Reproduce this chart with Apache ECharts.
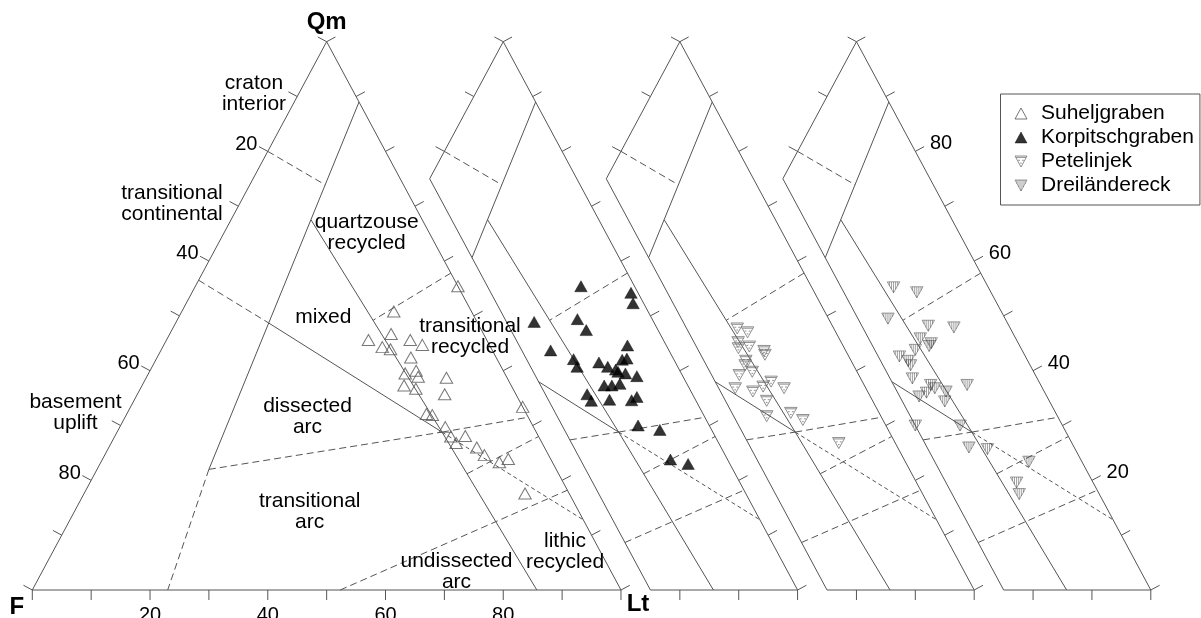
<!DOCTYPE html>
<html>
<head>
<meta charset="utf-8">
<script src="https://cdn.jsdelivr.net/npm/echarts@6/dist/echarts.min.js"></script>
<style>
  html, body { margin: 0; padding: 0; background: #fff; }
  #chart { width: 1201px; height: 618px; }
</style>
</head>
<body>
<div id="chart"></div>
<script>
// Detrital modes, [Qm, F, Lt] in percent
const suheljgraben = [
  [55.4,0,44.6],[50.8,13.2,36.0],[45.6,20.1,34.3],[46.7,15.7,37.6],[44.3,18.4,37.3],
  [43.9,17.2,38.9],[45.6,13.0,41.4],[44.7,11.4,43.9],[42.4,14.5,43.1],[40.0,14.8,45.2],
  [39.5,16.9,43.6],[38.9,15.0,46.1],[37.3,18.2,44.5],[36.7,16.5,46.8],[38.7,10.3,51.0],
  [35.7,12.1,52.2],[32.1,17.0,50.9],[31.9,16.1,52.0],[29.7,15.0,55.3],[28.0,14.9,57.1],
  [28.1,12.4,59.5],[26.8,14.6,58.6],[26.0,11.5,62.5],[24.6,10.9,64.5],[23.3,9.0,67.7],
  [23.9,7.2,68.9],[33.4,0,66.6],[17.6,7.5,74.9]
];
const korpitschgraben = [
  [55.4,9.1,35.5],[54.2,1.2,44.6],[52.3,1.8,45.9],[48.9,20.3,30.8],[49.4,12.7,37.9],
  [47.4,12.2,40.4],[43.7,20.1,36.2],[44.6,6.6,48.8],[42.1,17.0,40.9],[40.7,17.1,42.2],
  [41.5,13.0,45.5],[40.7,11.9,47.4],[40.2,10.8,49.0],[42.0,8.8,49.2],[42.2,7.9,49.9],
  [39.8,10.6,49.6],[39.5,9.5,51.0],[39.0,7.8,53.2],[37.3,14.2,48.5],[37.3,12.9,49.8],
  [37.6,11.4,51.0],[35.7,17.9,46.4],[34.5,17.8,47.7],[34.7,14.6,50.7],[34.6,10.9,54.5],
  [35.2,9.7,55.1],[30.0,12.1,57.9],[29.2,8.8,62.0],[23.8,9.7,66.5],[23.0,7.1,69.9]
];
const petelinjek = [
  [47.7,16.4,35.9],[47.0,15.0,38.0],[45.2,17.5,37.3],[44.1,18.0,37.9],[44.4,16.0,39.6],
  [43.6,13.9,42.5],[42.9,14.1,43.0],[41.8,17.9,40.3],[41.0,18.4,40.6],[39.2,20.3,40.5],
  [39.8,17.8,42.4],[36.8,22.2,41.0],[36.2,19.5,44.3],[37.1,17.3,45.6],[38.0,15.5,46.5],
  [36.8,13.9,49.3],[34.5,18.0,47.5],[31.7,19.4,48.9],[32.3,15.0,52.7],[31.0,13.6,55.4],
  [26.8,9.6,63.6]
];
const dreilaendereck = [
  [55.2,16.1,28.7],[54.3,12.6,33.1],[49.5,19.9,30.6],[48.2,13.7,38.1],[47.9,9.5,42.6],
  [45.9,16.2,37.9],[45.0,14.8,40.2],[44.5,15.4,40.1],[43.8,18.1,38.1],[42.6,21.4,36.0],
  [41.8,20.3,37.9],[41.0,20.3,38.7],[38.6,21.2,40.2],[37.4,18.7,43.9],[36.8,18.3,44.9],
  [36.0,20.1,43.9],[35.3,21.7,43.0],[36.2,16.7,47.1],[34.4,17.8,47.8],[37.4,12.5,50.1],
  [30.0,25.0,45.0],[30.0,17.4,52.6],[26.0,17.9,56.1],[25.7,14.9,59.4],[23.4,9.0,67.6],
  [19.6,13.0,67.4],[17.5,13.6,68.9]
];

const seriesNames = ['Suheljgraben', 'Korpitschgraben', 'Petelinjek', 'Dreiländereck'];

// Provenance field boundaries (Dickinson QmFLt), corner points as [Qm, F, Lt]
const fieldLines = [
  { pts: [[89,0,11],[22,59,19]], kind: 'solid' },
  { pts: [[22,59,19],[0,77,23]], kind: 'dash' },
  { pts: [[80,20,0],[73.9,13.3,12.8]], kind: 'dash' },
  { pts: [[56.5,43.5,0],[48.7,35.5,15.8]], kind: 'dash' },
  { pts: [[48.7,35.5,15.8],[28.8,16.0,55.2]], kind: 'solid' },
  { pts: [[28.8,16.0,55.2],[12.8,0,87.2]], kind: 'fine' },
  { pts: [[67.5,18.9,13.6],[28.8,16.0,55.2],[0,14.3,85.7]], kind: 'solid' },
  { pts: [[57.8,0,42.2],[49.2,17.5,33.3]], kind: 'dash' },
  { pts: [[22,59,19],[28.8,16.0,55.2],[31.5,0,68.5]], kind: 'dash' },
  { pts: [[0,47.7,52.3],[18.2,0,81.8]], kind: 'dash' },
  { pts: [[21.2,15.55,63.25],[28,0,72]], kind: 'dash' }
];

const fieldNames = [
  { text: 'craton\ninterior', at: [254, 94] },
  { text: 'transitional\ncontinental', at: [172, 204] },
  { text: 'basement\nuplift', at: [75.5, 413] },
  { text: 'quartzouse\nrecycled', at: [366.7, 232.5] },
  { text: 'mixed', at: [323.3, 317.5] },
  { text: 'transitional\nrecycled', at: [470, 336.5] },
  { text: 'dissected\narc', at: [307.5, 417] },
  { text: 'transitional\narc', at: [309.7, 512] },
  { text: 'undissected\narc', at: [456.5, 572] },
  { text: 'lithic\nrecycled', at: [565, 551.5] }
];

// Tick labels: F % along the left edge, Lt % along the base, Qm % along the right edge
const leftTickLabels = ['20', '40', '60', '80'];
const baseTickLabels = ['20', '40', '60', '80'];
const rightTickLabels = ['80', '60', '40', '20'];
const cornerLabels = ['Qm', 'F', 'Lt'];

const SHIFT = 30;   // each following diagram is offset by 30 % of the base length
const CLIP_F = 25;  // the offset diagrams only show their F <= 25 % part
const FONT = '"Liberation Sans", Arial, sans-serif';
const LINE_COLOR = '#555';

function plotXY(p, k) {
  const s = p[0] + p[1] + p[2];
  const qm = p[0] / s * 100, lt = p[2] / s * 100;
  return [lt + qm / 2 + SHIFT * k, qm];
}
function mix(a, b, t) { return [a[0] + (b[0] - a[0]) * t, a[1] + (b[1] - a[1]) * t, a[2] + (b[2] - a[2]) * t]; }

// keep the part of a segment with F <= limit
function clipSegment(a, b, limit) {
  const fa = a[1], fb = b[1];
  if (fa > limit && fb > limit) return null;
  if (fa <= limit && fb <= limit) return [a, b];
  const t = (limit - fa) / (fb - fa);
  const m = mix(a, b, t);
  return fa > limit ? [m, b] : [a, m];
}

const DASHES = { solid: null, dash: [7, 4], fine: [4, 3] };

function renderDiagrams(params, api) {
  const P = (p, k) => api.coord(plotXY(p, k));
  const kids = [];
  const addLine = (pts, dash) => kids.push({
    type: 'polyline', silent: true, shape: { points: pts },
    style: { stroke: LINE_COLOR, lineWidth: 1, fill: null, lineDash: dash }
  });
  const addText = (text, x, y, align, vAlign, font) => kids.push({
    type: 'text', silent: true,
    style: { text: text, x: x, y: y, align: align, verticalAlign: vAlign, font: font, fill: '#000' }
  });
  const QM = [100, 0, 0], FV = [0, 100, 0], LV = [0, 0, 100];

  for (let k = 0; k < 4; k++) {
    const outline = k === 0 ? [QM, FV, LV, QM]
      : [QM, [100 - CLIP_F, CLIP_F, 0], [0, CLIP_F, 100 - CLIP_F], LV, QM];
    addLine(outline.map(p => P(p, k)), null);

    // field boundaries
    fieldLines.forEach(fl => {
      for (let i = 0; i < fl.pts.length - 1; i++) {
        const seg = k === 0 ? [fl.pts[i], fl.pts[i + 1]] : clipSegment(fl.pts[i], fl.pts[i + 1], CLIP_F);
        if (seg) addLine(seg.map(p => P(p, k)), DASHES[fl.kind]);
      }
    });

    // ticks every 10 %, pointing outward
    const c = P([33.34, 33.33, 33.33], k);
    const edges = [
      { a: QM, b: FV, i0: 0, i1: k ? 2 : 10, side: 'left' },
      { a: FV, b: LV, i0: k ? 8 : 0, i1: 10, side: 'base' },
      { a: QM, b: LV, i0: 0, i1: 10, side: 'right' }
    ];
    edges.forEach(e => {
      const pa = P(e.a, k), pb = P(e.b, k);
      const dx = pb[0] - pa[0], dy = pb[1] - pa[1], len = Math.hypot(dx, dy);
      let nx = -dy / len, ny = dx / len;
      const mx = (pa[0] + pb[0]) / 2, my = (pa[1] + pb[1]) / 2;
      if (nx * (mx - c[0]) + ny * (my - c[1]) < 0) { nx = -nx; ny = -ny; }
      for (let i = e.i0; i <= e.i1; i++) {
        const q = P(mix(e.a, e.b, i / 10), k);
        const end = [q[0] + nx * 10, q[1] + ny * 10];
        addLine([q, end], null);
        const li = i / 2 - 1;
        if (i % 2 === 0 && i > 0 && i < 10) {
          const tf = '20px ' + FONT;
          if (k === 0 && e.side === 'left') addText(leftTickLabels[li], end[0] - 1.5, end[1] - 2.5, 'right', 'middle', tf);
          if (k === 0 && e.side === 'base') addText(baseTickLabels[li], end[0], end[1] + 15, 'center', 'middle', tf);
          if (k === 3 && e.side === 'right') addText(rightTickLabels[li], end[0] + 5.8, end[1] - 2.8, 'left', 'middle', tf);
        }
      }
    });
  }

  const bf = 'bold 24px ' + FONT;
  const q = P(QM, 0), f = P(FV, 0), l = P(LV, 0);
  addText(cornerLabels[0], q[0], q[1] - 19.5, 'center', 'middle', bf);
  addText(cornerLabels[1], f[0] - 15.5, f[1] + 17, 'center', 'middle', bf);
  addText(cornerLabels[2], l[0] + 17, l[1] + 14, 'center', 'middle', bf);

  return { type: 'group', children: kids };
}

const SYM_UP = 'path://M6,0L12,11L0,11Z';
const SYM_DASHED = 'path://M0,0L12,0L6,11Z M1,1.4L11,1.4 M3.2,4.3L5,4.3 M7,4.3L8.8,4.3 M5.2,7.1L6.8,7.1';
const SYM_HATCHED = 'path://M0,0L12,0L6,11Z M2,0L2,3.7 M4,0L4,7.3 M6,0L6,11 M8,0L8,7.3 M10,0L10,3.7';
const CLEAR = 'rgba(255,255,255,0)';

const groups = [
  { data: suheljgraben, symbol: SYM_UP, style: { color: CLEAR, borderColor: '#555', borderWidth: 1 } },
  { data: korpitschgraben, symbol: SYM_UP, style: { color: '#000', borderColor: '#000', borderWidth: 0.5 } },
  { data: petelinjek, symbol: SYM_DASHED, style: { color: CLEAR, borderColor: '#666', borderWidth: 0.9 } },
  { data: dreilaendereck, symbol: SYM_HATCHED, style: { color: CLEAR, borderColor: '#444', borderWidth: 0.65 } }
];

const chart = echarts.init(document.getElementById('chart'), null, { renderer: 'canvas' });
chart.setOption({
  animation: false,
  backgroundColor: '#fff',
  grid: { left: 32.3, top: 41.7, width: 1118.5, height: 548.3, containLabel: false },
  xAxis: { type: 'value', min: 0, max: 190, show: false },
  yAxis: { type: 'value', min: 0, max: 100, show: false },
  legend: {
    orient: 'vertical', left: 1000.5, top: 94,
    padding: [9, 6, 9, 14], itemGap: 3, itemWidth: 30, itemHeight: 11,
    borderColor: '#555', borderWidth: 1, backgroundColor: '#fff',
    symbolKeepAspect: true,
    textStyle: { fontSize: 21, fontFamily: FONT, color: '#000' },
    data: seriesNames.map((n, i) => ({
      name: n, icon: groups[i].symbol,
      itemStyle: Object.assign({}, groups[i].style)
    }))
  },
  graphic: fieldNames.map(fn => ({
    type: 'text', x: fn.at[0], y: fn.at[1], silent: true, z: 5,
    style: { text: fn.text, align: 'center', verticalAlign: 'middle', lineHeight: 21,
             font: '21px ' + FONT, fill: '#000' }
  })),
  series: [
    { type: 'custom', renderItem: renderDiagrams, data: [[0, 0]], silent: true, z: 1, clip: false }
  ].concat(groups.map((g, k) => ({
    type: 'scatter', name: seriesNames[k], z: 3 + k,
    symbol: g.symbol, symbolSize: [12.5, 11],
    itemStyle: g.style,
    emphasis: { disabled: true },
    data: g.data.map(p => plotXY(p, k))
  })))
});
</script>
</body>
</html>
